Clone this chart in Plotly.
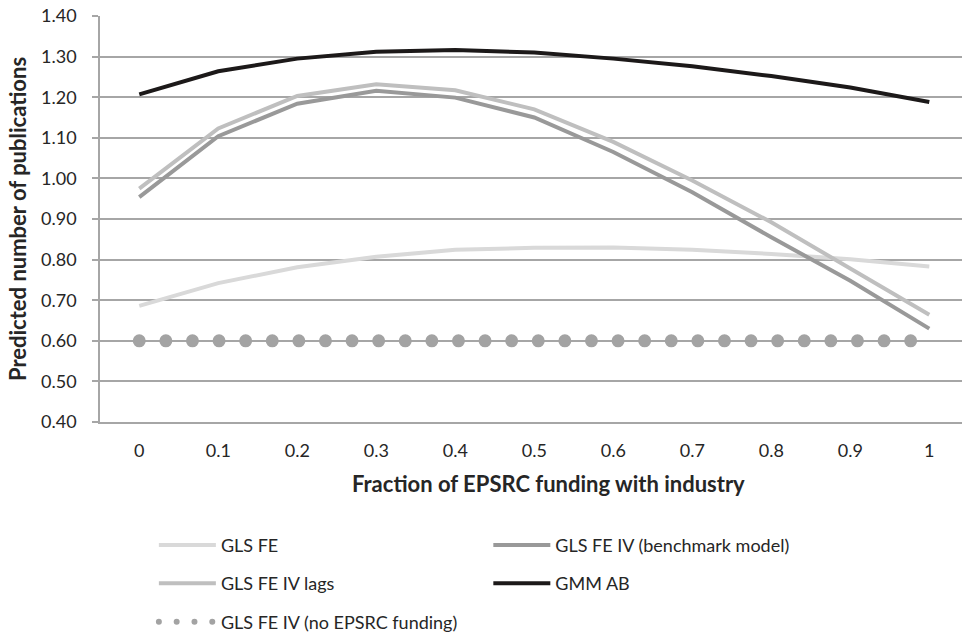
import plotly.graph_objects as go

# ---- data ----
fraction = [0, 0.1, 0.2, 0.3, 0.4, 0.5, 0.6, 0.7, 0.8, 0.9, 1.0]
tick_labels = ["0", "0.1", "0.2", "0.3", "0.4", "0.5", "0.6", "0.7", "0.8", "0.9", "1"]
gls_fe = [0.686, 0.742, 0.781, 0.807, 0.824, 0.829, 0.830, 0.824, 0.814, 0.801, 0.783]
gls_fe_iv_bench = [0.954, 1.104, 1.184, 1.216, 1.199, 1.150, 1.065, 0.966, 0.855, 0.748, 0.630]
gls_fe_iv_lags = [0.975, 1.123, 1.203, 1.232, 1.217, 1.170, 1.090, 0.995, 0.892, 0.779, 0.664]
gmm_ab = [1.207, 1.264, 1.295, 1.312, 1.316, 1.310, 1.295, 1.276, 1.252, 1.224, 1.188]
no_epsrc = [0.60] * len(fraction)
y_ticks = [0.4, 0.5, 0.6, 0.7, 0.8, 0.9, 1.0, 1.1, 1.2, 1.3, 1.4]

FONT = "Lato"
TXT = "#262626"

fig = go.Figure()
fig.add_trace(go.Scatter(x=fraction, y=gls_fe, name="GLS FE", mode="lines",
                         line=dict(color="#D9D9D9", width=4),
                         legend="legend", legendgroup="a"))
fig.add_trace(go.Scatter(x=fraction, y=gls_fe_iv_bench, name="GLS FE IV (benchmark model)", mode="lines",
                         line=dict(color="#999999", width=4),
                         legend="legend2", legendgroup="b"))
fig.add_trace(go.Scatter(x=fraction, y=gls_fe_iv_lags, name="GLS FE IV lags", mode="lines",
                         line=dict(color="#BFBFBF", width=4),
                         legend="legend", legendgroup="c"))
fig.add_trace(go.Scatter(x=fraction, y=gmm_ab, name="GMM AB", mode="lines",
                         line=dict(color="#1C1919", width=4),
                         legend="legend2", legendgroup="d"))
fig.add_trace(go.Scatter(x=fraction, y=no_epsrc, name="GLS FE IV (no EPSRC funding)", mode="lines",
                         line=dict(color="#A3A3A3", width=13, dash="0px,26.6px"),
                         legend="legend", legendgroup="e"))

leg_common = dict(orientation="v", xanchor="left", yanchor="top",
                  font=dict(family=FONT, size=18, color=TXT),
                  bgcolor="rgba(0,0,0,0)", tracegroupgap=12, itemwidth=57)

fig.update_layout(
    width=962, height=636,
    margin=dict(l=100, r=0, t=16, b=214, autoexpand=False),
    paper_bgcolor="white", plot_bgcolor="white",
    font=dict(family=FONT, size=18, color=TXT),
    showlegend=True,
    legend=dict(x=0.0625, y=-0.258, **leg_common),
    legend2=dict(x=0.4505, y=-0.258, **leg_common),
    xaxis=dict(
        range=[-0.0497, 1.0414], tickmode="array", tickvals=fraction, ticktext=tick_labels,
        showgrid=False, zeroline=False, showline=True, linecolor="#A6A6A6", linewidth=1.5,
        ticks="", ticklabelstandoff=12, automargin=False,
        tickfont=dict(family=FONT, size=18, color=TXT),
    ),
    yaxis=dict(
        range=[0.40, 1.40], tickmode="array", tickvals=y_ticks,
        tickformat=".2f", automargin=False,
        showgrid=True, gridcolor="#A6A6A6", gridwidth=1.5,
        zeroline=False, showline=True, linecolor="#A6A6A6", linewidth=1.5,
        ticks="outside", ticklen=6, tickcolor="#A6A6A6", tickwidth=1.5,
        ticklabelstandoff=12,
        tickfont=dict(family=FONT, size=18, color=TXT),
        title=dict(text="<b>Predicted number of publications</b>",
                   font=dict(family=FONT, size=22, color=TXT), standoff=8),
    ),
    annotations=[dict(
        text="<b>Fraction of EPSRC funding with industry</b>",
        xref="paper", yref="paper", x=0.52, y=-0.151,
        xanchor="center", yanchor="middle", showarrow=False,
        font=dict(family=FONT, size=22, color=TXT),
    )],
)

post = """
document.body.style.margin = '0';
document.body.style.padding = '0';
var gd = document.getElementById('{plot_id}');
function fixDots(){
  gd.querySelectorAll('path.js-line').forEach(function(p){
    var da = p.style.strokeDasharray || '';
    if (da.indexOf('26.6') >= 0 || p.getAttribute('data-dots') === '1') {
      p.setAttribute('data-dots', '1');
      p.style.strokeLinecap = 'round';
      if (p.closest('[class^=legend]')) {
        p.style.strokeDasharray = '0px, 17.8px';
        p.style.strokeWidth = '6px';
      }
    }
  });
}
fixDots();
if (gd.on) { gd.on('plotly_afterplot', fixDots); }
"""

fig.write_html("out.html", post_script=post, config={"displayModeBar": False})
